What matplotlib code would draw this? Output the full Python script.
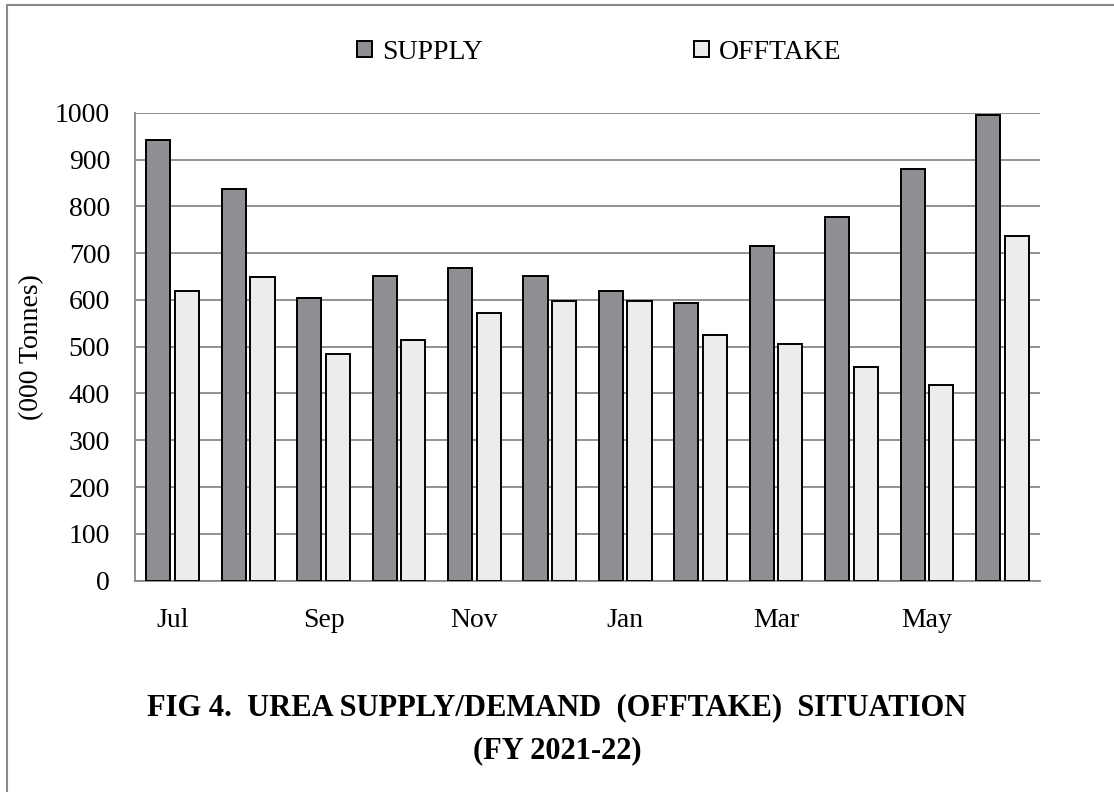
import matplotlib

matplotlib.use("Agg")
import matplotlib.pyplot as plt
import numpy as np
from matplotlib.patches import Rectangle

months = ["Jul", "Aug", "Sep", "Oct", "Nov", "Dec", "Jan", "Feb", "Mar", "Apr", "May", "Jun"]
supply = [942, 837, 603, 652, 669, 652, 619, 594, 716, 778, 879, 996]
offtake = [620, 648, 484, 514, 573, 598, 598, 526, 506, 456, 418, 736]
yticks = [0, 100, 200, 300, 400, 500, 600, 700, 800, 900, 1000]

plt.rcParams["font.family"] = ["Liberation Serif", "DejaVu Serif"]

fig = plt.figure(figsize=(11.14, 7.92), dpi=100)
ax = fig.add_axes([0.1212, 0.2668, 0.8124, 0.5909])

x = np.arange(len(months))
w = 0.32
ax.bar(x - 0.19, supply, w, color="#8f8f93", edgecolor="black", linewidth=1.4,
       label="SUPPLY", zorder=3)
ax.bar(x + 0.19, offtake, w, color="#ececea", edgecolor="black", linewidth=1.4,
       label="OFFTAKE", zorder=3)

ax.set_xlim(-0.5, len(months) - 0.5)
ax.set_ylim(0, 1000)
ax.set_yticks(yticks)
ax.set_yticklabels([str(v) for v in yticks], fontsize=20)
ax.set_xticks(x[::2])
ax.set_xticklabels(months[::2], fontsize=20)
ax.tick_params(axis="both", length=0)
ax.tick_params(axis="y", pad=18)
ax.tick_params(axis="x", pad=20)
ax.yaxis.grid(True, color="#888888", linewidth=1.3, zorder=0)
ax.set_axisbelow(True)
for side in ["top", "right"]:
    ax.spines[side].set_visible(False)
for side in ["left", "bottom"]:
    ax.spines[side].set_color("#888888")
    ax.spines[side].set_linewidth(1.3)

ax.set_ylabel("(000 Tonnes)", fontsize=20, labelpad=8)

fig.legend(loc="center", bbox_to_anchor=(0.538, 0.934), ncol=2, frameon=False,
           fontsize=20, handlelength=0.55, handleheight=0.55, handletextpad=0.35,
           columnspacing=7.6)

fig.text(0.5, 0.106, "FIG 4.  UREA SUPPLY/DEMAND  (OFFTAKE)  SITUATION",
         ha="center", va="center", fontsize=22, fontweight="bold")
fig.text(0.5, 0.052, "(FY 2021-22)", ha="center", va="center",
         fontsize=22, fontweight="bold")

# thin outer frame (only left and top edges fall inside the image)
fig.patches.append(Rectangle((7 / 1114, -0.1), 1.2, 1 - 5 / 792 + 0.1,
                             transform=fig.transFigure, fill=False,
                             edgecolor="#8a8a8a", linewidth=1.5))

fig.savefig("out.png", dpi=100)
plt.close(fig)
